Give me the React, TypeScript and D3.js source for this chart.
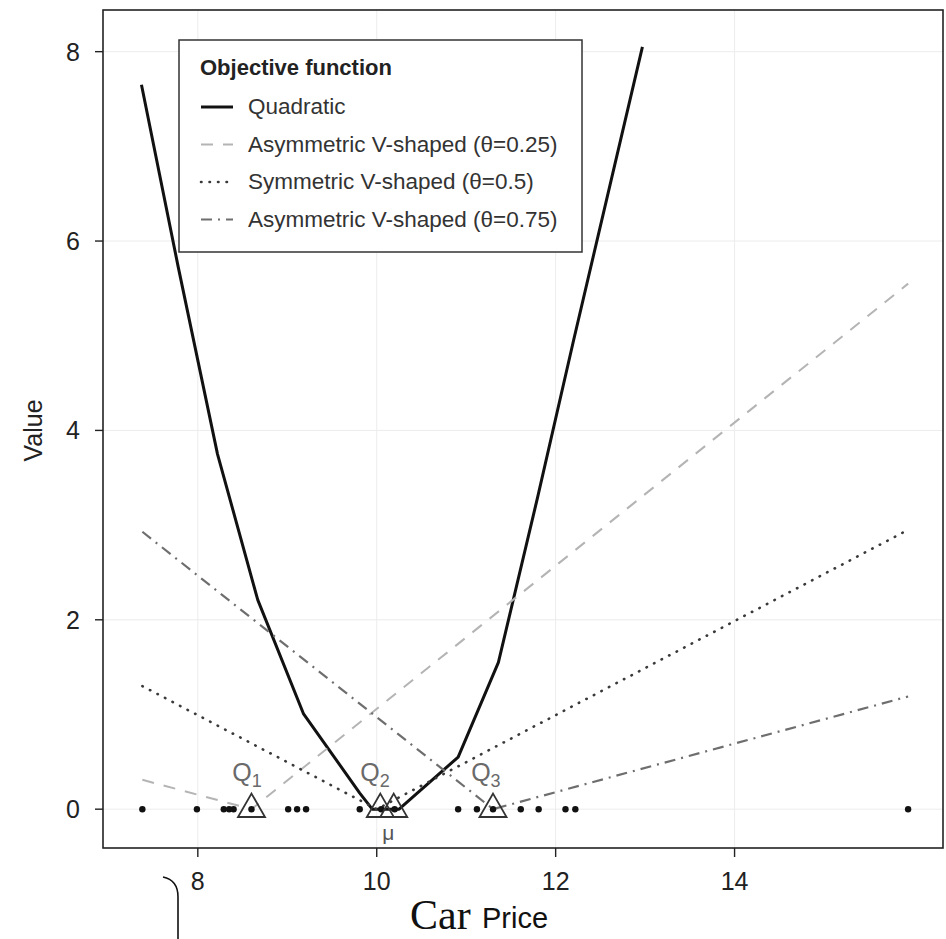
import React from "react";
import * as d3 from "d3";

// observed car prices (points on the zero line)
const prices = [
  7.38, 7.99, 8.29, 8.35, 8.4, 8.6, 9.01, 9.11, 9.21, 9.81, 10.05, 10.2,
  10.91, 11.12, 11.3, 11.61, 11.81, 12.11, 12.22, 15.94,
];

// objective function curves
const quadratic = [
  [7.37, 7.65], [7.78, 5.73], [8.22, 3.75], [8.67, 2.21], [9.18, 1.01],
  [9.81, 0.17], [9.95, 0], [10.25, 0], [10.91, 0.55], [11.36, 1.55],
  [11.8, 3.3], [12.2, 4.95], [12.97, 8.05],
];
const asym25 = [[7.38, 0.31], [8.6, 0], [15.94, 5.55]];
const sym50 = [[7.38, 1.3], [10.0, 0], [15.94, 2.95]];
const asym75 = [[7.38, 2.93], [11.3, 0], [15.94, 1.19]];

// quantile / mean markers
const markers = [8.6, 10.04, 10.19, 11.3];
const markerLabels = [
  { x: 8.55, main: "Q", sub: "1" },
  { x: 9.98, main: "Q", sub: "2" },
  { x: 11.22, main: "Q", sub: "3" },
];
const meanLabel = { x: 10.13, text: "\u03bc" };

const xTicks = [8, 10, 12, 14];
const yTicks = [0, 2, 4, 6, 8];

const legendTitle = "Objective function";
const legendItems = [
  "Quadratic",
  "Asymmetric V-shaped (\u03b8=0.25)",
  "Symmetric V-shaped (\u03b8=0.5)",
  "Asymmetric V-shaped (\u03b8=0.75)",
];

const W = 946;
const H = 939;
const left = 103, right = 943, top = 10, bottom = 848;
const sans = "'Liberation Sans', Arial, sans-serif";

const styles = [
  { stroke: "#111", width: 3, dash: null, cap: "butt" },
  { stroke: "#b4b4b4", width: 2, dash: "12,10", cap: "butt" },
  { stroke: "#3a3a3a", width: 2.6, dash: "0.5,8", cap: "round" },
  { stroke: "#6e6e6e", width: 2.2, dash: "11,6,2,6", cap: "butt" },
];

export default function App() {
  const x = d3.scaleLinear().domain([6.94, 16.33]).range([left, right]);
  const y = d3.scaleLinear().domain([-0.41, 8.44]).range([bottom, top]);
  const line = d3
    .line<number[]>()
    .x((d) => x(d[0]))
    .y((d) => y(d[1]));
  const series = [quadratic, asym25, sym50, asym75];
  const tri = d3.symbol(d3.symbolTriangle, 316)();

  return (
    <svg width={W} height={H} style={{ position: "absolute", left: 0, top: 0, background: "#fff" }}>
      {/* faint grid */}
      {xTicks.map((t) => (
        <line key={"gx" + t} x1={x(t)} x2={x(t)} y1={top} y2={bottom} stroke="#ececec" strokeWidth={1} />
      ))}
      {yTicks.map((t) => (
        <line key={"gy" + t} x1={left} x2={right} y1={y(t)} y2={y(t)} stroke="#ececec" strokeWidth={1} />
      ))}

      {/* frame */}
      <rect x={left} y={top} width={right - left} height={bottom - top} fill="none" stroke="#222" strokeWidth={1.6} />

      {/* y axis */}
      {yTicks.map((t) => (
        <g key={"yt" + t}>
          <line x1={left - 8} x2={left} y1={y(t)} y2={y(t)} stroke="#222" strokeWidth={1.4} />
          <text x={left - 23} y={y(t)} dy="0.36em" textAnchor="end" fontFamily={sans} fontSize={25} fill="#222">
            {t}
          </text>
        </g>
      ))}
      <text
        transform={`translate(${33},${y(4)}) rotate(-90)`}
        textAnchor="middle"
        dy="0.36em"
        fontFamily={sans}
        fontSize={25}
        fill="#222"
      >
        Value
      </text>

      {/* x axis */}
      {xTicks.map((t) => (
        <g key={"xt" + t}>
          <line x1={x(t)} x2={x(t)} y1={bottom} y2={bottom + 9} stroke="#222" strokeWidth={1.4} />
          <text x={x(t)} y={bottom + 42} textAnchor="middle" fontFamily={sans} fontSize={25} fill="#222">
            {t}
          </text>
        </g>
      ))}
      <text x={410} y={929} fontFamily="'Liberation Serif', 'Times New Roman', serif" fontSize={42} fill="#111">
        Car
      </text>
      <text x={482} y={928} fontFamily={sans} fontSize={29} fill="#111">
        Price
      </text>
      <path d="M163,877 Q178,880 178,897 L178,939" fill="none" stroke="#111" strokeWidth={1.6} />

      {/* curves */}
      {series.map((s, i) => (
        <path
          key={"s" + i}
          d={line(s) || ""}
          fill="none"
          stroke={styles[i].stroke}
          strokeWidth={styles[i].width}
          strokeDasharray={styles[i].dash || undefined}
          strokeLinecap={styles[i].cap as any}
          strokeLinejoin="round"
        />
      ))}

      {/* data points */}
      {prices.map((p, i) => (
        <circle key={"p" + i} cx={x(p)} cy={y(0)} r={3.2} fill="#111" />
      ))}

      {/* quantile triangles */}
      {markers.map((m, i) => (
        <path key={"m" + i} d={tri || ""} transform={`translate(${x(m)},${y(0)})`} fill="none" stroke="#333" strokeWidth={1.8} />
      ))}
      {markerLabels.map((l, i) => (
        <text key={"ql" + i} x={x(l.x)} y={y(0.3)} textAnchor="middle" fontFamily={sans} fontSize={25} fill="#6a6a6a">
          {l.main}
          <tspan fontSize={18} dy={6}>{l.sub}</tspan>
        </text>
      ))}
      <text x={x(meanLabel.x)} y={y(-0.33)} textAnchor="middle" fontFamily={sans} fontSize={21} fill="#555">
        {meanLabel.text}
      </text>

      {/* legend */}
      <g transform="translate(179,40)">
        <rect x={0} y={0} width={403} height={212} fill="#fff" stroke="#333" strokeWidth={1.5} />
        <text x={21} y={35} fontFamily={sans} fontWeight="bold" fontSize={22} fill="#222">
          {legendTitle}
        </text>
        {legendItems.map((label, i) => (
          <g key={"li" + i} transform={`translate(0,${74 + i * 37.5})`}>
            <line
              x1={22}
              x2={54}
              y1={-7}
              y2={-7}
              stroke={styles[i].stroke}
              strokeWidth={styles[i].width}
              strokeDasharray={styles[i].dash || undefined}
              strokeLinecap={styles[i].cap as any}
            />
            <text x={69} y={0} fontFamily={sans} fontSize={22.5} fill="#333">
              {label}
            </text>
          </g>
        ))}
      </g>
    </svg>
  );
}
